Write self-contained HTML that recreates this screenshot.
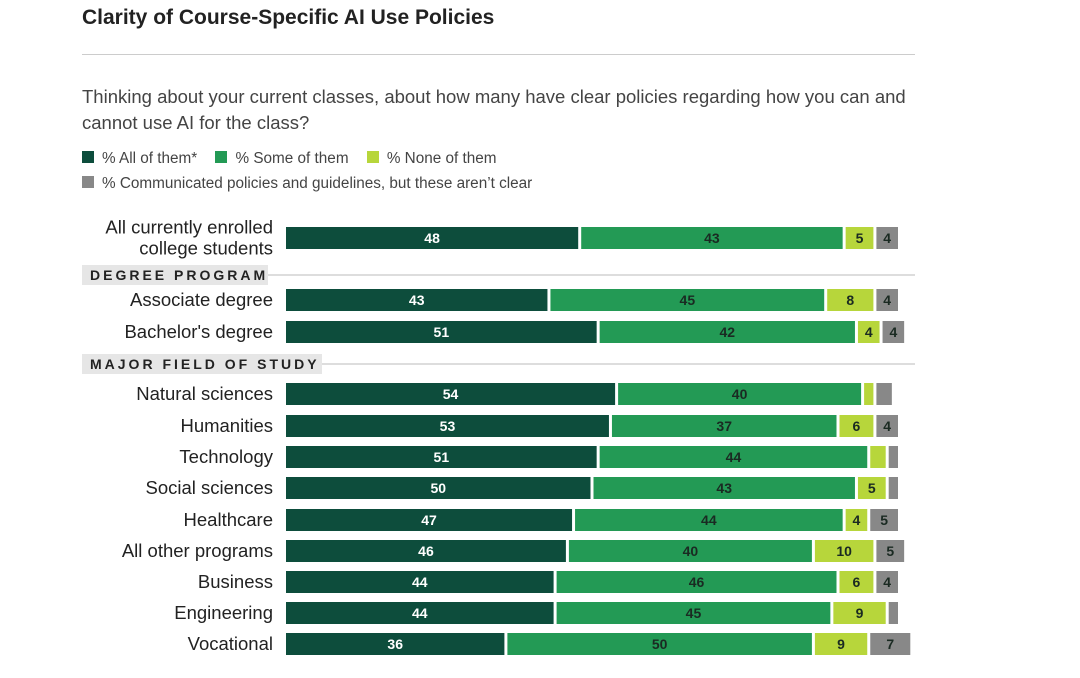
<!DOCTYPE html>
<html><head><meta charset="utf-8"><style>
body{margin:0;width:1080px;height:678px;background:#fff;font-family:"Liberation Sans",sans-serif;overflow:hidden;position:relative}
.t{position:absolute;white-space:nowrap}
</style></head><body>
<div class="t" style="left:82px;top:6px;font-size:21px;font-weight:bold;color:#222">Clarity of Course-Specific AI Use Policies</div>
<div style="position:absolute;left:82px;top:54px;width:833px;height:1px;background:#ccc"></div>
<div class="t" style="left:82px;top:84px;font-size:18.5px;color:#444;line-height:26px">Thinking about your current classes, about how many have clear policies regarding how you can and<br>cannot use AI for the class?</div>
<div class="t" style="left:82px;top:146px;font-size:15.3px;color:#444;line-height:25px">
<span><span style="display:inline-block;width:12px;height:12px;background:#0d4d3c;margin-right:8px"></span>% All of them*</span>
<span style="margin-left:14px"><span style="display:inline-block;width:12px;height:12px;background:#239a55;margin-right:8px"></span>% Some of them</span>
<span style="margin-left:14px"><span style="display:inline-block;width:12px;height:12px;background:#b7d63b;margin-right:8px"></span>% None of them</span><br>
<span><span style="display:inline-block;width:12px;height:12px;background:#888;margin-right:8px"></span>% Communicated policies and guidelines, but these aren’t clear</span>
</div>
<svg id="chart" width="1080" height="678" style="position:absolute;left:0;top:0"></svg>
<script>
const categories=["All currently enrolled|college students","Associate degree","Bachelor's degree","Natural sciences","Humanities","Technology","Social sciences","Healthcare","All other programs","Business","Engineering","Vocational"];
const allVals=[48,43,51,54,53,51,50,47,46,44,44,36];
const someVals=[43,45,42,40,37,44,43,44,40,46,45,50];
const noneVals=[5,8,4,2,6,3,5,4,10,6,9,9];
const unclearVals=[4,4,4,3,4,2,2,5,5,4,2,7];
const showLabel=[[1,1,1,1],[1,1,1,1],[1,1,1,1],[1,1,0,0],[1,1,1,1],[1,1,0,0],[1,1,1,0],[1,1,1,1],[1,1,1,1],[1,1,1,1],[1,1,1,0],[1,1,1,1]];
const rowY=[238,300,332,394,426,457,488,520,551,582,613,644];
const sections=[["DEGREE PROGRAM",275,186],["MAJOR FIELD OF STUDY",364,240]];
const colors=["#0d4d3c","#239a55","#b7d63b","#888"];
const textColors=["#fff","#1a2a22","#1a2a22","#1a2a22"];
const svg=document.getElementById('chart');
const NS="http://www.w3.org/2000/svg";
const x0=286,u=6.15;
const xs=v=>x0+v*u;
function mk(t,a){const e=document.createElementNS(NS,t);for(const k in a)e.setAttribute(k,a[k]);svg.appendChild(e);return e;}
sections.forEach(s=>{
  const r=mk('rect',{x:82,y:s[1]-10,width:s[2],height:20,fill:'#e6e6e6'});
  
  
  const l=mk('line',{x1:82+s[2],x2:915,y1:s[1],y2:s[1],stroke:'#bbb','stroke-width':1});
  
  
  const t=mk('text',{x:90,y:s[1]+5,'font-size':14,'font-weight':'bold','letter-spacing':'3','fill':'#222'});
  t.textContent=s[0];
  
  
});
categories.forEach((c,i)=>{
  const y=rowY[i];
  const lines=c.split('|');
  lines.forEach((ln,j)=>{
    const t=mk('text',{x:273,y:y+6+(j-(lines.length-1)/2)*21,'text-anchor':'end','font-size':18.5,fill:'#222'});
    t.textContent=ln;
    
    
  });
  const vals=[allVals[i],someVals[i],noneVals[i],unclearVals[i]];
  let cum=0;
  vals.forEach((v,k)=>{
    const r=mk('rect',{x:xs(cum),y:y-11,width:Math.max(0,xs(cum+v)-xs(cum)-3),height:22,fill:colors[k]});
    
    
    if(showLabel[i][k]){
      const t=mk('text',{x:(xs(cum)+xs(cum+v)-3)/2,y:y+5,'text-anchor':'middle','font-size':14,'font-weight':'bold',fill:textColors[k]});
      t.textContent=v;
      
      
    }
    cum+=v;
  });
});
</script>
</body></html>
